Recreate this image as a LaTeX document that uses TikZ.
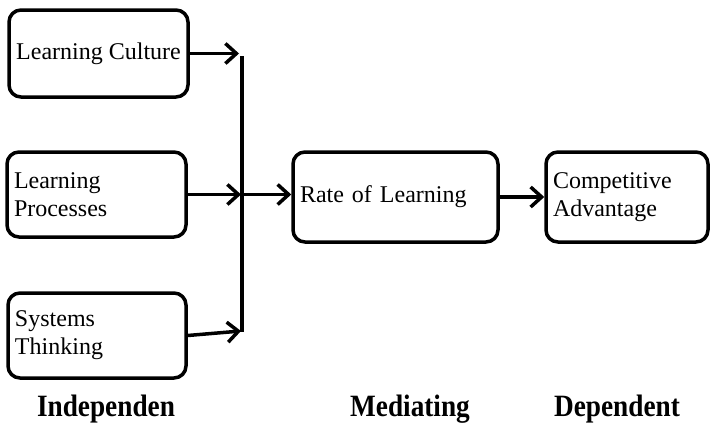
\documentclass[tikz,border=0pt]{standalone}
\usepackage{fontspec}
\setmainfont{Liberation Serif}
\usetikzlibrary{arrows.meta}
\begin{document}
\begin{tikzpicture}[x=1pt,y=-1pt,
  box/.style={draw,line width=3.5pt,rounded corners=12pt,inner xsep=7pt,inner ysep=0pt,
    font=\fontsize{24}{28}\selectfont,align=left},
  lbl/.style={font=\bfseries\fontsize{31}{34}\selectfont,inner sep=0pt},
  arr/.style={line width=3.5pt,-{Straight Barb[length=11pt,width=20pt]}},
  vline/.style={line width=3.5pt}]
\useasboundingbox (0,0) rectangle (710,423);
\node[box,minimum width=179pt,minimum height=87pt,inner xsep=0pt,align=center] (b1) at (98.5,53.5) {Learning Culture};
\node[box,minimum width=179pt,minimum height=85pt,text width=165pt] (b2) at (96.5,194.5) {Learning\\Processes};
\node[box,minimum width=178pt,minimum height=85pt,text width=164pt] (b3) at (97,335.5) {Systems\\Thinking};
\node[box,minimum width=205pt,minimum height=90pt,text width=191pt] (r) at (395.5,197) {Rate of Learning};
\node[box,minimum width=162pt,minimum height=90pt,text width=148pt] (c) at (627,197) {Competitive\\Advantage};
\coordinate (vtop) at (242,56);
\coordinate (vbot) at (242,332);
\coordinate (t1) at (239,53.5);
\coordinate (t2) at (241,194.5);
\coordinate (t3) at (241,331);
\coordinate (m) at (242,194.5);
\draw[vline] (vtop) -- (vbot);
\draw[arr] (b1.east) -- (t1);
\draw[arr] (b2.east) -- (t2);
\draw[arr] (b3.east) -- (t3);
\draw[arr] (m) -- (m -| r.west);
\draw[arr] (r.east) -- (c.west);
\node[lbl] (l1) at (106,409) {\scalebox{0.88}[1]{Independen}};
\node[lbl] (l2) at (410,409) {\scalebox{0.88}[1]{Mediating}};
\node[lbl] (l3) at (617,409) {\scalebox{0.88}[1]{Dependent}};
\end{tikzpicture}
\end{document}
